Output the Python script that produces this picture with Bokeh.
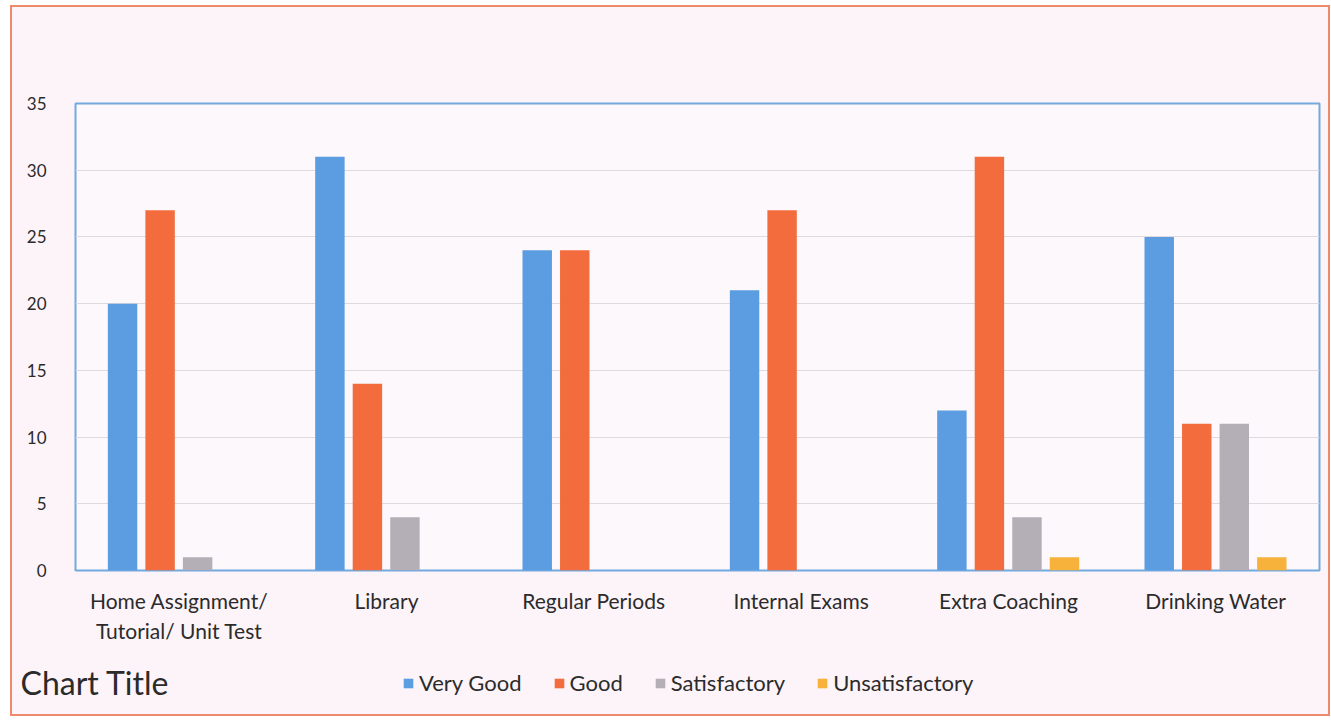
from bokeh.plotting import figure
from bokeh.models import Range1d, Legend, LegendItem, Label, FixedTicker, ColumnDataSource
from bokeh.layouts import column
from bokeh.embed import file_html
from bokeh.resources import INLINE

categories = ["Home Assignment/\nTutorial/ Unit Test", "Library", "Regular Periods",
              "Internal Exams", "Extra Coaching", "Drinking Water"]
very_good = [20, 31, 24, 21, 12, 25]
good = [27, 14, 24, 27, 31, 11]
satisfactory = [1, 4, 0, 0, 4, 11]
unsatisfactory = [0, 0, 0, 0, 1, 1]
series_names = ["Very Good", "Good", "Satisfactory", "Unsatisfactory"]
series_values = [very_good, good, satisfactory, unsatisfactory]
colors = ["#5b9de0", "#f26c3e", "#b4afb6", "#f7b23b"]
y_ticks = [0, 5, 10, 15, 20, 25, 30, 35]

FONT = "Lato"
TXT = "#2b2b2b"
BG = "#fcf4f9"
W = 1316

# ---- main chart ----
p = figure(width=W, height=638, output_backend="svg", toolbar_location=None,
           x_range=Range1d(0, len(categories)), y_range=Range1d(0, 35),
           min_border_left=63, min_border_right=9, min_border_top=96, min_border_bottom=68)
p.frame_align = False
p.background_fill_color = "#fdf8fb"
p.border_fill_color = BG
p.outline_line_color = "#72a9df"
p.outline_line_width = 2

offsets = [-0.273, -0.092, 0.089, 0.270]
bar_w = 0.142
sources = []
for name, vals, col, off in zip(series_names, series_values, colors, offsets):
    src = ColumnDataSource(dict(x=[i + 0.5 + off for i in range(len(categories))], top=vals))
    sources.append(src)
    p.vbar(x="x", top="top", width=bar_w, bottom=0, source=src,
           fill_color=col, line_color=None)

p.xgrid.grid_line_color = None
p.ygrid.grid_line_color = "#dedade"
p.ygrid.grid_line_width = 1
p.ygrid.ticker = FixedTicker(ticks=y_ticks)

p.yaxis.ticker = FixedTicker(ticks=y_ticks)
p.yaxis.axis_line_color = None
p.yaxis.major_tick_line_color = None
p.yaxis.minor_tick_line_color = None
p.yaxis.major_label_text_font = FONT
p.yaxis.major_label_text_font_size = "17px"
p.yaxis.major_label_text_color = TXT
p.yaxis.major_label_standoff = 23

p.xaxis.ticker = FixedTicker(ticks=[i + 0.5 for i in range(len(categories))])
p.xaxis.major_label_overrides = {i + 0.5: c for i, c in enumerate(categories)}
p.xaxis.axis_line_color = None
p.xaxis.major_tick_line_color = None
p.xaxis.minor_tick_line_color = None
p.xaxis.major_label_text_font = FONT
p.xaxis.major_label_text_font_size = "21px"
p.xaxis.major_label_text_color = TXT
p.xaxis.major_label_standoff = 11

# ---- bottom strip: chart title + legend ----
q = figure(width=W, height=69, output_backend="svg", toolbar_location=None,
           x_range=Range1d(0, len(categories)), y_range=Range1d(-2, -1),
           x_axis_location=None, y_axis_location=None,
           min_border_left=0, min_border_right=0, min_border_top=0, min_border_bottom=0)
q.frame_align = False
q.grid.grid_line_color = None
q.outline_line_color = None
q.background_fill_color = BG
q.border_fill_color = BG

items = []
for name, src, col in zip(series_names, sources, colors):
    # same series as the chart, hidden here; only its legend swatch is shown
    r = q.vbar(x="x", top="top", width=bar_w, bottom=0, source=src,
               fill_color=col, line_color=None, visible=False)
    items.append(LegendItem(label=name, renderers=[r]))

legend = Legend(items=items, orientation="horizontal", location=(390, 18),
                background_fill_alpha=0, border_line_color=None,
                inactive_fill_alpha=0,
                label_text_font=FONT, label_text_font_size="22px", label_text_color=TXT,
                glyph_width=12, glyph_height=12, label_standoff=5, spacing=31,
                padding=0, margin=0)
q.add_layout(legend, "center")

title = Label(x=8, y=32, x_units="screen", y_units="screen", text="Chart Title",
              text_font=FONT, text_font_size="32px", text_color=TXT,
              text_baseline="alphabetic")
q.add_layout(title)

layout = column(p, q, spacing=0,
                styles={"border": "2px solid #ee8a6c", "margin-left": "10px",
                        "margin-top": "5px", "background-color": BG, "gap": "0px"})

open("out.html", "w").write(file_html(layout, INLINE))
